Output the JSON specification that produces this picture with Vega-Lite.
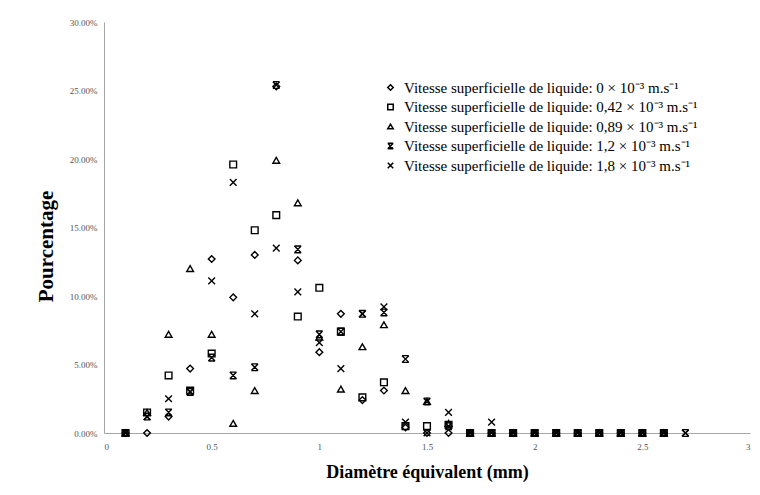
{
  "$schema": "https://vega.github.io/schema/vega-lite/v6.json",
  "width": 646,
  "height": 411,
  "autosize": "none",
  "padding": {"left": 104, "top": 22, "right": 10, "bottom": 62},
  "background": "white",
  "config": {
    "view": {"stroke": null},
    "axis": {
      "grid": false,
      "ticks": false,
      "domainColor": "#a6a6a6",
      "domainWidth": 1,
      "labelFont": "Liberation Serif",
      "labelFontSize": 9,
      "labelColor": "#555555",
      "titleFont": "Liberation Serif",
      "titleFontWeight": "bold",
      "titleColor": "#000000"
    }
  },
  "data": {
    "values": [
      {"s": "0", "d": 0.1, "v": 0}, {"s": "0", "d": 0.2, "v": 0}, {"s": "0", "d": 0.3, "v": 0.012}, {"s": "0", "d": 0.4, "v": 0.047},
      {"s": "0", "d": 0.5, "v": 0.127}, {"s": "0", "d": 0.6, "v": 0.099}, {"s": "0", "d": 0.7, "v": 0.130}, {"s": "0", "d": 0.8, "v": 0.253},
      {"s": "0", "d": 0.9, "v": 0.126}, {"s": "0", "d": 1.0, "v": 0.059}, {"s": "0", "d": 1.1, "v": 0.087}, {"s": "0", "d": 1.2, "v": 0.024},
      {"s": "0", "d": 1.3, "v": 0.031}, {"s": "0", "d": 1.4, "v": 0.004}, {"s": "0", "d": 1.5, "v": 0}, {"s": "0", "d": 1.6, "v": 0},
      {"s": "0", "d": 1.7, "v": 0}, {"s": "0", "d": 1.8, "v": 0}, {"s": "0", "d": 1.9, "v": 0}, {"s": "0", "d": 2.0, "v": 0},
      {"s": "0", "d": 2.1, "v": 0}, {"s": "0", "d": 2.2, "v": 0}, {"s": "0", "d": 2.3, "v": 0}, {"s": "0", "d": 2.4, "v": 0},
      {"s": "0", "d": 2.5, "v": 0}, {"s": "0", "d": 2.6, "v": 0},

      {"s": "0,42", "d": 0.1, "v": 0}, {"s": "0,42", "d": 0.2, "v": 0.015}, {"s": "0,42", "d": 0.3, "v": 0.042}, {"s": "0,42", "d": 0.4, "v": 0.031},
      {"s": "0,42", "d": 0.5, "v": 0.058}, {"s": "0,42", "d": 0.6, "v": 0.196}, {"s": "0,42", "d": 0.7, "v": 0.148}, {"s": "0,42", "d": 0.8, "v": 0.159},
      {"s": "0,42", "d": 0.9, "v": 0.085}, {"s": "0,42", "d": 1.0, "v": 0.106}, {"s": "0,42", "d": 1.1, "v": 0.074}, {"s": "0,42", "d": 1.2, "v": 0.026},
      {"s": "0,42", "d": 1.3, "v": 0.037}, {"s": "0,42", "d": 1.4, "v": 0.005}, {"s": "0,42", "d": 1.5, "v": 0.005}, {"s": "0,42", "d": 1.6, "v": 0.006},
      {"s": "0,42", "d": 1.7, "v": 0}, {"s": "0,42", "d": 1.8, "v": 0}, {"s": "0,42", "d": 1.9, "v": 0}, {"s": "0,42", "d": 2.0, "v": 0},
      {"s": "0,42", "d": 2.1, "v": 0}, {"s": "0,42", "d": 2.2, "v": 0}, {"s": "0,42", "d": 2.3, "v": 0}, {"s": "0,42", "d": 2.4, "v": 0},
      {"s": "0,42", "d": 2.5, "v": 0}, {"s": "0,42", "d": 2.6, "v": 0},

      {"s": "0,89", "d": 0.1, "v": 0}, {"s": "0,89", "d": 0.2, "v": 0.015}, {"s": "0,89", "d": 0.3, "v": 0.072}, {"s": "0,89", "d": 0.4, "v": 0.120},
      {"s": "0,89", "d": 0.5, "v": 0.072}, {"s": "0,89", "d": 0.6, "v": 0.007}, {"s": "0,89", "d": 0.7, "v": 0.031}, {"s": "0,89", "d": 0.8, "v": 0.199},
      {"s": "0,89", "d": 0.9, "v": 0.168}, {"s": "0,89", "d": 1.0, "v": 0.070}, {"s": "0,89", "d": 1.1, "v": 0.032}, {"s": "0,89", "d": 1.2, "v": 0.063},
      {"s": "0,89", "d": 1.3, "v": 0.079}, {"s": "0,89", "d": 1.4, "v": 0.031}, {"s": "0,89", "d": 1.5, "v": 0.023}, {"s": "0,89", "d": 1.6, "v": 0.007},
      {"s": "0,89", "d": 1.7, "v": 0}, {"s": "0,89", "d": 1.8, "v": 0}, {"s": "0,89", "d": 1.9, "v": 0}, {"s": "0,89", "d": 2.0, "v": 0},
      {"s": "0,89", "d": 2.1, "v": 0}, {"s": "0,89", "d": 2.2, "v": 0}, {"s": "0,89", "d": 2.3, "v": 0}, {"s": "0,89", "d": 2.4, "v": 0},
      {"s": "0,89", "d": 2.5, "v": 0}, {"s": "0,89", "d": 2.6, "v": 0},

      {"s": "1,2", "d": 0.1, "v": 0}, {"s": "1,2", "d": 0.2, "v": 0.012}, {"s": "1,2", "d": 0.3, "v": 0.015}, {"s": "1,2", "d": 0.4, "v": 0.030},
      {"s": "1,2", "d": 0.5, "v": 0.055}, {"s": "1,2", "d": 0.6, "v": 0.042}, {"s": "1,2", "d": 0.7, "v": 0.048}, {"s": "1,2", "d": 0.8, "v": 0.254},
      {"s": "1,2", "d": 0.9, "v": 0.134}, {"s": "1,2", "d": 1.0, "v": 0.072}, {"s": "1,2", "d": 1.1, "v": 0.074}, {"s": "1,2", "d": 1.2, "v": 0.087},
      {"s": "1,2", "d": 1.3, "v": 0.088}, {"s": "1,2", "d": 1.4, "v": 0.054}, {"s": "1,2", "d": 1.5, "v": 0.023}, {"s": "1,2", "d": 1.6, "v": 0.005},
      {"s": "1,2", "d": 1.7, "v": 0}, {"s": "1,2", "d": 1.8, "v": 0}, {"s": "1,2", "d": 1.9, "v": 0}, {"s": "1,2", "d": 2.0, "v": 0},
      {"s": "1,2", "d": 2.1, "v": 0}, {"s": "1,2", "d": 2.2, "v": 0}, {"s": "1,2", "d": 2.3, "v": 0}, {"s": "1,2", "d": 2.4, "v": 0},
      {"s": "1,2", "d": 2.5, "v": 0}, {"s": "1,2", "d": 2.6, "v": 0}, {"s": "1,2", "d": 2.7, "v": 0},

      {"s": "1,8", "d": 0.1, "v": 0}, {"s": "1,8", "d": 0.2, "v": 0.012}, {"s": "1,8", "d": 0.3, "v": 0.025}, {"s": "1,8", "d": 0.4, "v": 0.030},
      {"s": "1,8", "d": 0.5, "v": 0.111}, {"s": "1,8", "d": 0.6, "v": 0.183}, {"s": "1,8", "d": 0.7, "v": 0.087}, {"s": "1,8", "d": 0.8, "v": 0.135},
      {"s": "1,8", "d": 0.9, "v": 0.103}, {"s": "1,8", "d": 1.0, "v": 0.066}, {"s": "1,8", "d": 1.1, "v": 0.047}, {"s": "1,8", "d": 1.2, "v": 0.087},
      {"s": "1,8", "d": 1.3, "v": 0.092}, {"s": "1,8", "d": 1.4, "v": 0.008}, {"s": "1,8", "d": 1.5, "v": 0}, {"s": "1,8", "d": 1.6, "v": 0.015},
      {"s": "1,8", "d": 1.7, "v": 0}, {"s": "1,8", "d": 1.8, "v": 0.008}, {"s": "1,8", "d": 1.9, "v": 0}, {"s": "1,8", "d": 2.0, "v": 0},
      {"s": "1,8", "d": 2.1, "v": 0}, {"s": "1,8", "d": 2.2, "v": 0}, {"s": "1,8", "d": 2.3, "v": 0}, {"s": "1,8", "d": 2.4, "v": 0},
      {"s": "1,8", "d": 2.5, "v": 0}, {"s": "1,8", "d": 2.6, "v": 0}, {"s": "1,8", "d": 2.7, "v": 0}
    ]
  },
  "mark": {"type": "point", "filled": false, "stroke": "#000000", "strokeWidth": 1.4, "size": 45, "opacity": 1},
  "encoding": {
    "x": {
      "field": "d", "type": "quantitative",
      "scale": {"domain": [0, 3], "nice": false, "zero": true},
      "axis": {"values": [0, 0.5, 1, 1.5, 2, 2.5, 3], "format": "~g", "title": "Diamètre équivalent (mm)", "titleFontSize": 18, "titlePadding": 12, "labelPadding": 9}
    },
    "y": {
      "field": "v", "type": "quantitative",
      "scale": {"domain": [0, 0.3], "nice": false},
      "axis": {"values": [0, 0.05, 0.1, 0.15, 0.2, 0.25, 0.3], "format": ".2%", "title": "Pourcentage", "titleFontSize": 21, "titlePadding": 13, "titleY": 224, "labelPadding": 7}
    },
    "shape": {
      "field": "s", "type": "nominal",
      "scale": {
        "domain": ["0", "0,42", "0,89", "1,2", "1,8"],
        "range": ["diamond", "square", "triangle-up", "M-1,-1L1,-1M-1,1L1,1M-1,-1L1,1M1,-1L-1,1", "M-1,-1L1,1M1,-1L-1,1"]
      },
      "legend": {
        "title": null,
        "orient": "none",
        "legendX": 279,
        "legendY": 58,
        "labelFont": "Liberation Serif",
        "labelFontSize": 15,
        "labelColor": "#000000",
        "labelLimit": 400,
        "symbolSize": 30,
        "symbolStrokeColor": "#000000",
        "symbolStrokeWidth": 1.5,
        "rowPadding": 3.5,
        "labelOffset": 6,
        "labelExpr": "'Vitesse superficielle de liquide: ' + datum.label + ' × 10⁻³ m.s⁻¹'"
      }
    }
  }
}
